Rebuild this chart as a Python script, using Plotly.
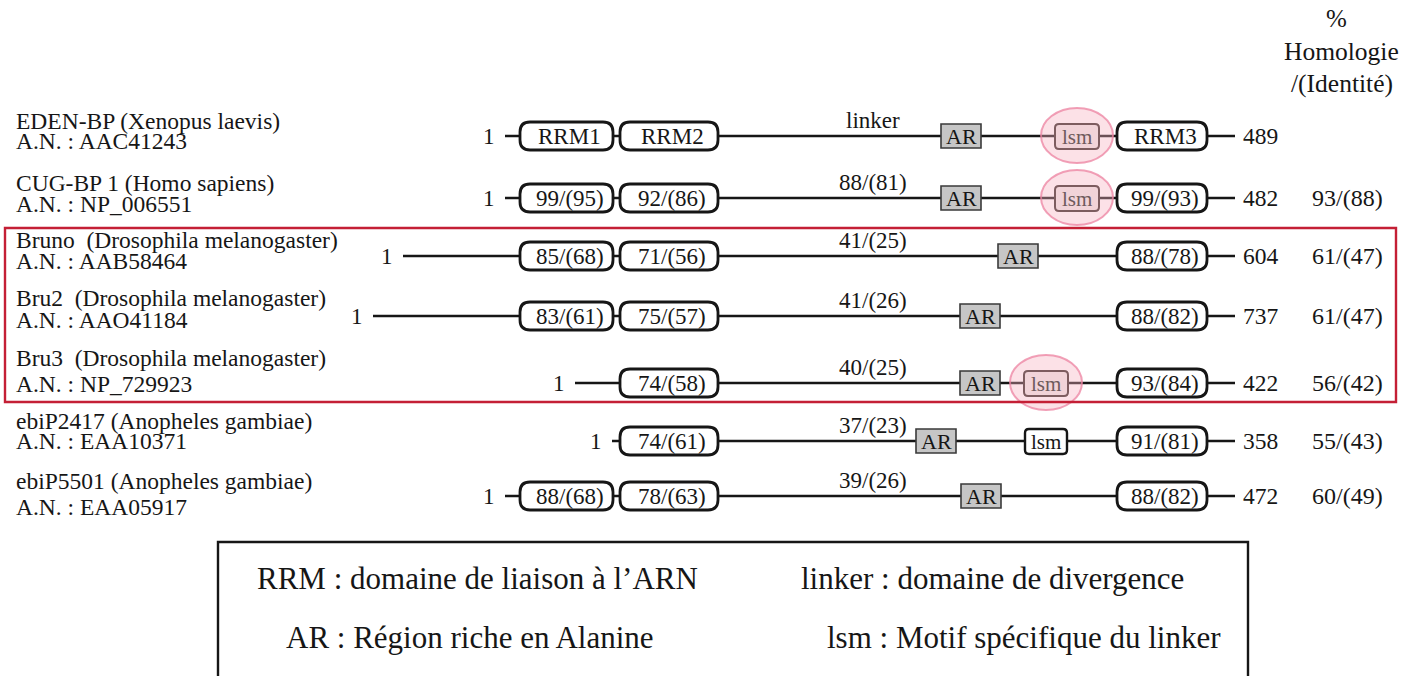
import plotly.graph_objects as go

# ---------------- data ----------------
names = ["EDEN-BP (Xenopus laevis)", "CUG-BP 1 (Homo sapiens)",
         "Bruno  (Drosophila melanogaster)", "Bru2  (Drosophila melanogaster)",
         "Bru3  (Drosophila melanogaster)", "ebiP2417 (Anopheles gambiae)",
         "ebiP5501 (Anopheles gambiae)"]
accessions = ["A.N. : AAC41243", "A.N. : NP_006551", "A.N. : AAB58464",
              "A.N. : AAO41184", "A.N. : NP_729923", "A.N. : EAA10371",
              "A.N. : EAA05917"]
lengths = [489, 482, 604, 737, 422, 358, 472]
rrm1_labels = ["RRM1", "99/(95)", "85/(68)", "83/(61)", None, None, "88/(68)"]
rrm2_labels = ["RRM2", "92/(86)", "71/(56)", "75/(57)", "74/(58)", "74/(61)", "78/(63)"]
linker_labels = ["linker", "88/(81)", "41/(25)", "41/(26)", "40/(25)", "37/(23)", "39/(26)"]
rrm3_labels = ["RRM3", "99/(93)", "88/(78)", "88/(82)", "93/(84)", "91/(81)", "88/(82)"]
overall_homology = [None, "93/(88)", "61/(47)", "61/(47)", "56/(42)", "55/(43)", "60/(49)"]
has_lsm = [True, True, False, False, True, True, False]
lsm_highlight = [True, True, False, False, True, False, False]
highlighted_rows = [2, 3, 4]  # Drosophila proteins framed in red

# schematic (not to scale) coordinates along the drawn protein axis
start_pos = [505, 505, 403, 373, 575, 612, 505]
ar_pos = [961, 961, 1018, 980, 980, 936, 981]
lsm_pos = [1077, 1077, None, None, 1046, 1046, None]
rrm1_span = (520, 613)
rrm2_span = (620, 718)
rrm3_span = (1117, 1207)
end_pos = 1235

legend_items = ["RRM : domaine de liaison à l’ARN", "linker : domaine de divergence",
                "AR : Région riche en Alanine", "lsm : Motif spécifique du linker"]

# ---------------- layout helpers ----------------
W, H = 1418, 676
row_y = [136, 198, 256, 316, 383, 441, 496]
name_y = [121, 183, 240, 298, 358, 421, 481]
acc_y = [141, 204, 261, 320, 384, 441, 507]
FONT = "Liberation Serif"
INK = "#161616"

fig = go.Figure()
shapes = []
ann = []


def text(x, y, s, size=23, anchor="center", color=INK):
    ann.append(dict(x=x, y=y, xref="x", yref="y", text=s, showarrow=False,
                    xanchor=anchor, yanchor="middle",
                    font=dict(family=FONT, size=size, color=color)))


def rounded(x0, x1, y0, y1, rx, ry, fill, line, lw):
    p = (f"M {x0+rx},{y0} L {x1-rx},{y0} Q {x1},{y0} {x1},{y0+ry} "
         f"L {x1},{y1-ry} Q {x1},{y1} {x1-rx},{y1} L {x0+rx},{y1} "
         f"Q {x0},{y1} {x0},{y1-ry} L {x0},{y0+ry} Q {x0},{y0} {x0+rx},{y0} Z")
    shapes.append(dict(type="path", path=p, xref="x", yref="y", fillcolor=fill,
                       line=dict(color=line, width=lw), layer="above"))


for i in range(len(names)):
    y = row_y[i]
    # protein backbone
    fig.add_trace(go.Scatter(x=[start_pos[i], end_pos], y=[y, y], mode="lines",
                             line=dict(color=INK, width=2.5), hoverinfo="skip",
                             showlegend=False))
    text(start_pos[i] - 8, y, "1", anchor="right")
    text(end_pos + 6, y, str(lengths[i]), size=23.5, anchor="left")
    if overall_homology[i]:
        text(1347, y, overall_homology[i], size=24)
    # RRM domains
    for span, lab in ((rrm1_span, rrm1_labels[i]), (rrm2_span, rrm2_labels[i]),
                      (rrm3_span, rrm3_labels[i])):
        if lab is None:
            continue
        rounded(span[0], span[1], y - 14, y + 14, 10, 10, "white", INK, 2.8)
        text((span[0] + span[1]) / 2 + 3, y, lab)
    # linker homology
    text(873, y - 16, linker_labels[i])
    # alanine-rich region
    a = ar_pos[i]
    shapes.append(dict(type="rect", xref="x", yref="y", x0=a - 20, x1=a + 20,
                       y0=y - 12, y1=y + 12, fillcolor="#c6c6c6",
                       line=dict(color="#3a3a3a", width=1.6), layer="above"))
    text(a, y, "AR", size=22)
    # linker specific motif
    if has_lsm[i]:
        c = lsm_pos[i]
        if lsm_highlight[i]:
            shapes.append(dict(type="circle", xref="x", yref="y", x0=c - 36, x1=c + 36,
                               y0=y - 28, y1=y + 27,
                               fillcolor="rgba(246,175,192,0.38)",
                               line=dict(color="rgba(236,130,160,0.75)", width=2),
                               layer="above"))
            rounded(c - 22, c + 22, y - 12, y + 13, 4, 4, "#f1d3d8", "#7d5c5f", 2)
            text(c, y + 1, "lsm", size=21, color="#6e5a5c")
        else:
            rounded(c - 21, c + 21, y - 12, y + 13, 4, 4, "white", INK, 2.4)
            text(c, y + 1, "lsm", size=21)
    # protein names
    text(14, name_y[i], names[i], size=23.5, anchor="left")
    text(14, acc_y[i], accessions[i], size=23.5, anchor="left")

# red frame around the Drosophila proteins
shapes.append(dict(type="rect", xref="x", yref="y", x0=5, x1=1396,
                   y0=row_y[highlighted_rows[0]] - 28, y1=row_y[highlighted_rows[-1]] + 19,
                   line=dict(color="#c41f35", width=2.4), fillcolor="rgba(0,0,0,0)",
                   layer="above"))

# column header
text(1336, 18, "%", size=25)
text(1341, 51, "Homologie", size=25.5)
text(1342, 83, "/(Identité)", size=25.5)

# legend box
shapes.append(dict(type="rect", xref="x", yref="y", x0=218, x1=1248, y0=542, y1=700,
                   line=dict(color=INK, width=2.4), fillcolor="rgba(0,0,0,0)",
                   layer="above"))
text(477, 578, legend_items[0], size=31)
text(992, 578, legend_items[1], size=31)
text(470, 637, legend_items[2], size=31)
text(1024, 637, legend_items[3], size=31)

fig.update_layout(
    width=W, height=H, autosize=False,
    font=dict(family=FONT),
    margin=dict(l=0, r=0, t=0, b=0, pad=0),
    paper_bgcolor="white", plot_bgcolor="white",
    xaxis=dict(range=[0, W], visible=False, fixedrange=True),
    yaxis=dict(range=[H, 0], visible=False, fixedrange=True),
    shapes=shapes, annotations=ann, showlegend=False,
)

fig.write_html("out.html", config={"displayModeBar": False, "staticPlot": True},
               post_script="document.body.style.margin='0';document.body.style.overflow='hidden';")
